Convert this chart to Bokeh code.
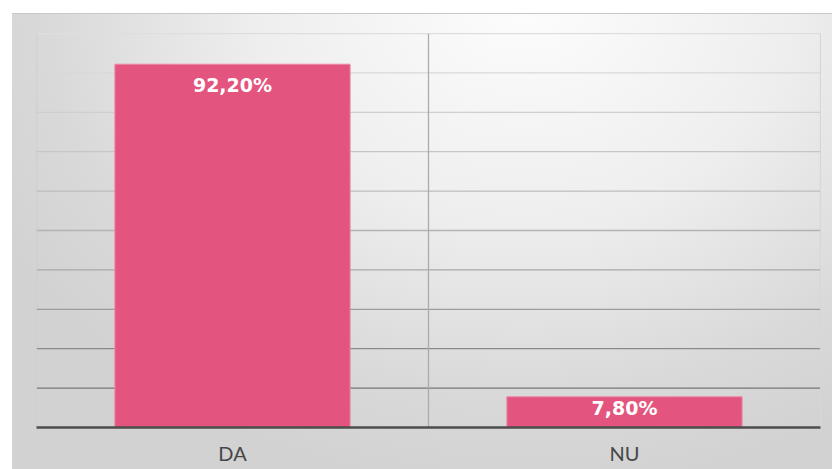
from bokeh.plotting import figure
from bokeh.models import ColumnDataSource, LabelSet, Span, FactorRange, Range1d
from bokeh.core.properties import value
from bokeh.embed import file_html
from bokeh.resources import INLINE

categories = ["DA", "NU"]
values = [92.2, 7.8]
y_ticks = [0, 10, 20, 30, 40, 50, 60, 70, 80, 90, 100]

labels = [f"{v:.2f}".replace(".", ",") + "%" for v in values]
source = ColumnDataSource(dict(
    cat=categories,
    val=values,
    lab=labels,
    dy=[-21 if v > 15 else -11 for v in values],
))

p = figure(
    x_range=FactorRange(*categories, range_padding=0),
    y_range=Range1d(0, 100),
    width=832, height=469,
    output_backend="svg", toolbar_location=None,
    min_border_left=36, min_border_right=12, min_border_top=33, min_border_bottom=42,
)
p.border_fill_color = None
p.background_fill_color = None
p.outline_line_color = "#dedede"
p.outline_line_width = 1
p.styles = {
    "background": (
        "linear-gradient(#ffffff,#ffffff) 0 0 / 12px 100% no-repeat, "
        "linear-gradient(#ffffff,#ffffff) 0 0 / 100% 13px no-repeat, "
        "linear-gradient(#c8c8c8,#c8c8c8) 0 13px / 100% 1px no-repeat, "
        "radial-gradient(ellipse 72% 105% at 63% 0%, #fdfdfd 0%, #eeeeee 45%, #d9d9d9 80%, #d2d2d2 100%)"
    )
}

# grid drawn level by level, fading toward the top like the reference
p.xgrid.grid_line_color = None
p.ygrid.grid_line_color = None
shades = ["#505050", "#767676", "#8a8a8a", "#9c9c9c", "#a9a9a9", "#b3b3b3",
          "#bdbdbd", "#c6c6c6", "#cfcfcf", "#d8d8d8", "#dedede"]
for t, c in zip(y_ticks[1:], shades[1:]):
    p.add_layout(Span(location=t, dimension="width", line_color=c, line_width=1.3, level="underlay"))
p.add_layout(Span(location=1, dimension="height", line_color="#ababab", line_width=1.3, level="underlay"))
p.add_layout(Span(location=0, dimension="height", line_color="#c4c4c4", line_width=1.2, level="underlay"))
p.add_layout(Span(location=2, dimension="height", line_color="#d0d0d0", line_width=1.2, level="underlay"))

p.vbar(x="cat", top="val", width=0.6, source=source,
       fill_color="#e3557e", line_color="#ec87a4", line_width=1)

p.add_layout(LabelSet(
    x="cat", y="val", text="lab", source=source,
    y_offset="dy", text_align="center", text_baseline="middle",
    text_color="white", text_font=value("DejaVu Sans"), text_font_style="bold",
    text_font_size="19px",
))

p.yaxis.visible = False
p.xaxis.axis_line_color = "#4d4d4d"
p.xaxis.axis_line_width = 2.5
p.xaxis.major_tick_line_color = None
p.xaxis.minor_tick_line_color = None
p.xaxis.major_label_text_font = "Lato"
p.xaxis.major_label_text_font_size = "20px"
p.xaxis.major_label_text_color = "#474747"
p.xaxis.major_label_standoff = 7

open("out.html", "w").write(file_html(p, INLINE))
